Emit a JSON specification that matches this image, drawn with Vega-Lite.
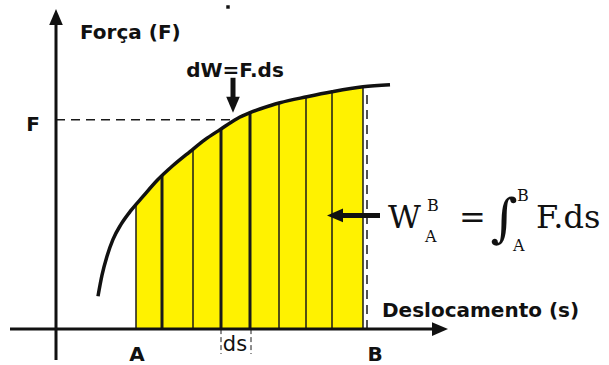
{
  "$schema": "https://vega.github.io/schema/vega-lite/v6.json",
  "width": 609,
  "height": 365,
  "autosize": {"type": "fit", "contains": "padding"},
  "padding": 0,
  "background": "white",
  "config": {"view": {"stroke": null}},
  "datasets": {
    "curve": [
      {"s": 42, "F": 33}, {"s": 46, "F": 54}, {"s": 51, "F": 73}, {"s": 57, "F": 90},
      {"s": 65, "F": 105}, {"s": 75, "F": 119}, {"s": 87, "F": 133}, {"s": 101, "F": 149},
      {"s": 117, "F": 164}, {"s": 134, "F": 178}, {"s": 149, "F": 190}, {"s": 164, "F": 200},
      {"s": 181, "F": 211}, {"s": 194, "F": 217}, {"s": 214, "F": 224}, {"s": 224, "F": 227},
      {"s": 251, "F": 233}, {"s": 276, "F": 238}, {"s": 307, "F": 243}, {"s": 334, "F": 245}
    ],
    "work": [
      {"s": 80, "F": 125}, {"s": 87, "F": 133}, {"s": 101, "F": 149}, {"s": 117, "F": 164},
      {"s": 134, "F": 178}, {"s": 149, "F": 190}, {"s": 164, "F": 200}, {"s": 181, "F": 211},
      {"s": 194, "F": 217}, {"s": 214, "F": 224}, {"s": 224, "F": 227}, {"s": 251, "F": 233},
      {"s": 276, "F": 238}, {"s": 307, "F": 243}
    ],
    "strips": [
      {"s": 80, "F": 0, "F2": 125}, {"s": 106, "F": 0, "F2": 154}, {"s": 137, "F": 0, "F2": 180},
      {"s": 165, "F": 0, "F2": 201}, {"s": 194, "F": 0, "F2": 217}, {"s": 223, "F": 0, "F2": 227},
      {"s": 250, "F": 0, "F2": 233}, {"s": 276, "F": 0, "F2": 238}, {"s": 307, "F": 0, "F2": 243}
    ],
    "axes": [
      {"s": -46, "F": 0, "s2": 384, "F2": 0},
      {"s": 0, "F": -31, "s2": 0, "F2": 305}
    ],
    "guides": [
      {"s": 0, "F": 210, "s2": 177, "F2": 210},
      {"s": 311, "F": 0, "s2": 311, "F2": 240}
    ],
    "dsTicks": [
      {"s": 165, "F": 0, "s2": 165, "F2": -25},
      {"s": 195, "F": 0, "s2": 195, "F2": -25}
    ],
    "shafts": [
      {"s": 177, "F": 252, "s2": 177, "F2": 228},
      {"s": 287, "F": 114, "s2": 324, "F2": 114}
    ],
    "heads": [
      {"s": 0, "F": 313, "heading": 0},
      {"s": 384, "F": 0, "heading": 90},
      {"s": 177, "F": 225, "heading": 180},
      {"s": 279, "F": 114, "heading": 270}
    ],
    "dot": [{"s": 172, "F": 323}],
    "labelsLeft": [
      {"s": 24, "F": 291, "text": "Força (F)"},
      {"s": 326, "F": 12, "text": "Deslocamento (s)"}
    ],
    "labelsCenter": [
      {"s": 179, "F": 253, "text": "dW=F.ds"},
      {"s": -23, "F": 199, "text": "F"},
      {"s": 81, "F": -32, "text": "A"},
      {"s": 319, "F": -32, "text": "B"}
    ],
    "dsLabel": [{"s": 179, "F": -22, "text": "ds"}],
    "formulaBig": [
      {"s": 332, "F": 101, "text": "W"},
      {"s": 403, "F": 101, "text": "="},
      {"s": 480, "F": 101, "text": "F.ds"}
    ],
    "formulaSmall": [
      {"s": 371, "F": 118, "text": "B"},
      {"s": 369, "F": 87, "text": "A"},
      {"s": 461, "F": 128, "text": "B"},
      {"s": 457, "F": 78, "text": "A"}
    ],
    "integral": [{"s": 448, "F": 109, "text": "∫"}]
  },
  "encoding": {
    "x": {"field": "s", "type": "quantitative", "scale": {"domain": [-56, 553], "nice": false, "zero": false}, "axis": null},
    "y": {"field": "F", "type": "quantitative", "scale": {"domain": [-35, 330], "nice": false, "zero": false}, "axis": null}
  },
  "layer": [
    {
      "data": {"name": "work"},
      "mark": {"type": "area", "color": "#FFF200", "interpolate": "monotone"},
      "encoding": {"y2": {"datum": 0}}
    },
    {
      "data": {"name": "strips"},
      "transform": [{"filter": {"not": {"field": "s", "oneOf": [106, 165, 194]}}}],
      "mark": {"type": "rule", "color": "#1a1a1a", "strokeWidth": 1.5},
      "encoding": {"y2": {"field": "F2"}}
    },
    {
      "data": {"name": "strips"},
      "transform": [{"filter": {"field": "s", "oneOf": [106, 165, 194]}}],
      "mark": {"type": "rule", "color": "#1a1a1a", "strokeWidth": 3},
      "encoding": {"y2": {"field": "F2"}}
    },
    {
      "data": {"name": "guides"},
      "mark": {"type": "rule", "color": "#1a1a1a", "strokeWidth": 1.5, "strokeDash": [9, 6]},
      "encoding": {"x2": {"field": "s2"}, "y2": {"field": "F2"}}
    },
    {
      "data": {"name": "dsTicks"},
      "mark": {"type": "rule", "color": "#1a1a1a", "strokeWidth": 1, "strokeDash": [5, 3]},
      "encoding": {"x2": {"field": "s2"}, "y2": {"field": "F2"}}
    },
    {
      "data": {"name": "curve"},
      "mark": {"type": "line", "color": "#111111", "strokeWidth": 3.5, "interpolate": "monotone", "strokeCap": "butt"}
    },
    {
      "data": {"name": "axes"},
      "mark": {"type": "rule", "color": "#111111", "strokeWidth": 3},
      "encoding": {"x2": {"field": "s2"}, "y2": {"field": "F2"}}
    },
    {
      "data": {"name": "shafts"},
      "mark": {"type": "rule", "color": "#111111", "strokeWidth": 5},
      "encoding": {"x2": {"field": "s2"}, "y2": {"field": "F2"}}
    },
    {
      "data": {"name": "heads"},
      "mark": {"type": "point", "shape": "M0,-1L0.85,1L-0.85,1Z", "filled": true, "color": "#111111", "opacity": 1, "size": 256},
      "encoding": {"angle": {"field": "heading", "type": "quantitative", "scale": null}}
    },
    {
      "data": {"name": "dot"},
      "mark": {"type": "point", "shape": "square", "filled": true, "color": "#111111", "opacity": 1, "size": 12}
    },
    {
      "data": {"name": "labelsLeft"},
      "mark": {"type": "text", "font": "DejaVu Sans", "fontWeight": "bold", "fontSize": 20, "align": "left", "baseline": "alphabetic", "color": "#111111"},
      "encoding": {"text": {"field": "text"}}
    },
    {
      "data": {"name": "labelsCenter"},
      "mark": {"type": "text", "font": "DejaVu Sans", "fontWeight": "bold", "fontSize": 20, "align": "center", "baseline": "alphabetic", "color": "#111111"},
      "encoding": {"text": {"field": "text"}}
    },
    {
      "data": {"name": "dsLabel"},
      "mark": {"type": "text", "font": "DejaVu Sans", "fontSize": 21, "align": "center", "baseline": "alphabetic", "color": "#111111"},
      "encoding": {"text": {"field": "text"}}
    },
    {
      "data": {"name": "formulaBig"},
      "mark": {"type": "text", "font": "DejaVu Serif", "fontSize": 32, "align": "left", "baseline": "alphabetic", "color": "#111111"},
      "encoding": {"text": {"field": "text"}}
    },
    {
      "data": {"name": "formulaSmall"},
      "mark": {"type": "text", "font": "DejaVu Serif", "fontSize": 16, "align": "left", "baseline": "alphabetic", "color": "#111111"},
      "encoding": {"text": {"field": "text"}}
    },
    {
      "data": {"name": "integral"},
      "mark": {"type": "text", "font": "DejaVu Serif", "fontSize": 52, "align": "center", "baseline": "middle", "color": "#111111"},
      "encoding": {"text": {"field": "text"}}
    }
  ]
}
